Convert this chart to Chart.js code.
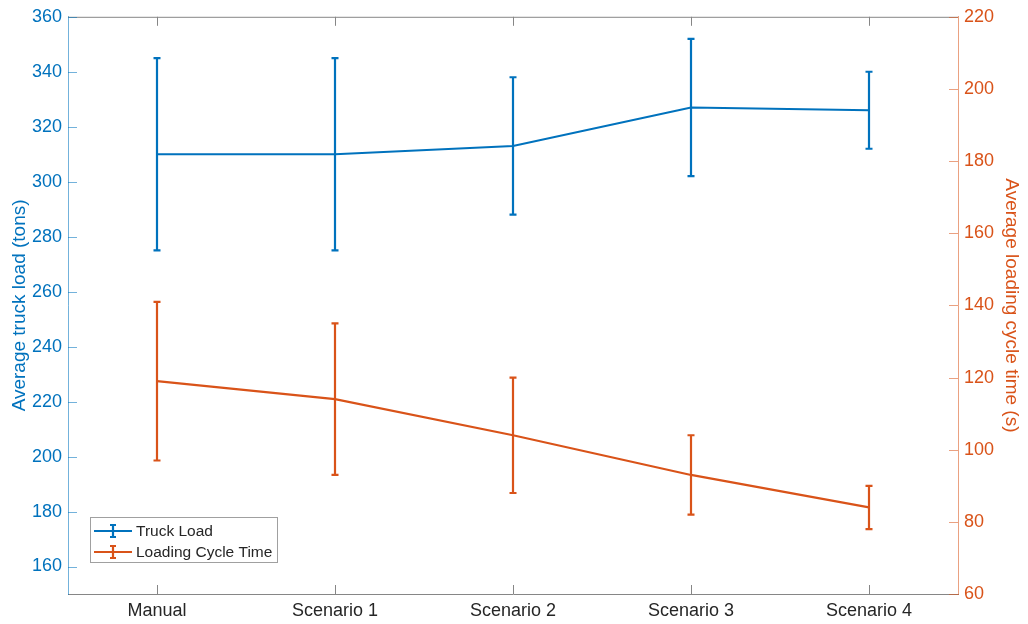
<!DOCTYPE html>
<html>
<head>
<meta charset="utf-8">
<script src="https://cdn.jsdelivr.net/npm/chart.js@4.4.0/dist/chart.umd.min.js"></script>
<style>
  html, body { margin: 0; padding: 0; background: #fff; }
</style>
</head>
<body>
<canvas id="myChart" width="1028" height="624"></canvas>
<script>
// data
var categories = ['Manual', 'Scenario 1', 'Scenario 2', 'Scenario 3', 'Scenario 4'];
var truckLoad = [310, 310, 313, 327, 326];
var truckLoadErr = [35, 35, 25, 25, 14];
var cycleTime = [119, 114, 104, 93, 84];
var cycleTimeErr = [22, 21, 16, 11, 6];
var loadTicks = [160, 180, 200, 220, 240, 260, 280, 300, 320, 340, 360];
var timeTicks = [60, 80, 100, 120, 140, 160, 180, 200, 220];

var blue = '#0072BD';
var orange = '#D95319';
var fontFam = '"Liberation Sans", Arial, Helvetica, sans-serif';

var errs = [truckLoadErr, cycleTimeErr];

// error bars, inward ticks, top frame line and the legend box
var matlabLook = {
  id: 'matlabLook',
  afterDatasetsDraw: function(chart) {
    var ctx = chart.ctx;
    var xs = chart.scales.x;
    chart.data.datasets.forEach(function(ds, i) {
      var ys = chart.scales[ds.yAxisID];
      ctx.save();
      ctx.strokeStyle = ds.borderColor;
      ctx.lineWidth = 2.2;
      ds.data.forEach(function(v, j) {
        var x = xs.getPixelForValue(j);
        var top = ys.getPixelForValue(v + errs[i][j]);
        var bot = ys.getPixelForValue(v - errs[i][j]);
        ctx.beginPath();
        ctx.moveTo(x, top); ctx.lineTo(x, bot);
        ctx.moveTo(x - 3.5, top); ctx.lineTo(x + 3.5, top);
        ctx.moveTo(x - 3.5, bot); ctx.lineTo(x + 3.5, bot);
        ctx.stroke();
      });
      ctx.restore();
    });
  },
  afterDraw: function(chart) {
    var ctx = chart.ctx;
    var a = chart.chartArea;
    var xs = chart.scales.x, yl = chart.scales.yL, yr = chart.scales.yR;
    ctx.save();
    ctx.lineWidth = 1;
    // top frame
    ctx.strokeStyle = '#868686';
    ctx.beginPath();
    ctx.moveTo(a.left, a.top + 0.5); ctx.lineTo(a.right, a.top + 0.5);
    ctx.stroke();
    // x ticks, bottom and top, pointing in
    ctx.beginPath();
    xs.ticks.forEach(function(t, j) {
      var x = Math.round(xs.getPixelForValue(j)) + 0.5;
      ctx.moveTo(x, a.bottom); ctx.lineTo(x, a.bottom - 9);
      ctx.moveTo(x, a.top); ctx.lineTo(x, a.top + 9);
    });
    ctx.stroke();
    // left ticks
    ctx.strokeStyle = 'rgba(0,114,189,0.55)';
    ctx.beginPath();
    yl.ticks.forEach(function(t) {
      var y = Math.round(yl.getPixelForValue(t.value)) + 0.5;
      ctx.moveTo(a.left, y); ctx.lineTo(a.left + 9, y);
    });
    ctx.stroke();
    // right ticks
    ctx.strokeStyle = 'rgba(217,83,25,0.55)';
    ctx.beginPath();
    yr.ticks.forEach(function(t) {
      var y = Math.round(yr.getPixelForValue(t.value)) + 0.5;
      ctx.moveTo(a.right, y); ctx.lineTo(a.right - 9, y);
    });
    ctx.stroke();

    // legend
    var bx = a.left + 22, by = a.bottom - 77, bw = 187, bh = 45;
    ctx.fillStyle = '#fff';
    ctx.fillRect(bx, by, bw, bh);
    ctx.strokeStyle = '#a0a0a0';
    ctx.strokeRect(bx + 0.5, by + 0.5, bw, bh);
    ctx.font = '15.5px ' + fontFam;
    ctx.textBaseline = 'middle';
    ctx.textAlign = 'left';
    chart.data.datasets.forEach(function(ds, i) {
      var y = by + 14 + i * 21;
      var cx = bx + 23;
      ctx.strokeStyle = ds.borderColor;
      ctx.lineWidth = 2.2;
      ctx.beginPath();
      ctx.moveTo(bx + 4, y); ctx.lineTo(bx + 42, y);
      ctx.moveTo(cx, y - 6); ctx.lineTo(cx, y + 6);
      ctx.moveTo(cx - 3, y - 6); ctx.lineTo(cx + 3, y - 6);
      ctx.moveTo(cx - 3, y + 6); ctx.lineTo(cx + 3, y + 6);
      ctx.stroke();
      ctx.fillStyle = '#262626';
      ctx.fillText(ds.label, bx + 46, y + 1);
    });
    ctx.restore();
  }
};

const ctx = document.getElementById('myChart');

new Chart(ctx, {
  type: 'line',
  data: {
    labels: categories,
    datasets: [{
      label: 'Truck Load',
      data: truckLoad,
      yAxisID: 'yL',
      borderColor: blue,
      backgroundColor: blue,
      borderWidth: 2.2,
      pointRadius: 0,
      tension: 0
    }, {
      label: 'Loading Cycle Time',
      data: cycleTime,
      yAxisID: 'yR',
      borderColor: orange,
      backgroundColor: orange,
      borderWidth: 2.2,
      pointRadius: 0,
      tension: 0
    }]
  },
  options: {
    responsive: false,
    animation: false,
    devicePixelRatio: 1,
    layout: { padding: { top: 15, left: 0, right: 0, bottom: 0 } },
    plugins: {
      legend: { display: false },
      tooltip: { enabled: false }
    },
    scales: {
      x: {
        type: 'category',
        offset: true,
        grid: { display: false, drawTicks: false },
        border: { display: true, color: '#868686', width: 1 },
        ticks: { color: '#262626', padding: 6, font: { family: fontFam, size: 18 } },
        afterFit: function(s) { s.height = 30; }
      },
      yL: {
        position: 'left',
        min: 150,
        max: 360,
        grid: { display: false, drawTicks: false },
        border: { display: true, color: 'rgba(0,114,189,0.55)', width: 1 },
        ticks: { color: blue, padding: 6, font: { family: fontFam, size: 18 } },
        afterBuildTicks: function(s) { s.ticks = loadTicks.map(function(v) { return { value: v }; }); },
        title: {
          display: true,
          text: 'Average truck load (tons)',
          color: blue,
          padding: { top: 8, bottom: 0 },
          font: { family: fontFam, size: 19 }
        },
        afterFit: function(s) { s.width = 68; }
      },
      yR: {
        position: 'right',
        min: 60,
        max: 220,
        grid: { display: false, drawTicks: false },
        border: { display: true, color: 'rgba(217,83,25,0.55)', width: 1 },
        ticks: { color: orange, padding: 6, font: { family: fontFam, size: 18 } },
        afterBuildTicks: function(s) { s.ticks = timeTicks.map(function(v) { return { value: v }; }); },
        title: {
          display: true,
          text: 'Average loading cycle time (s)',
          color: orange,
          padding: { top: 5, bottom: 0 },
          font: { family: fontFam, size: 19 }
        },
        afterFit: function(s) { s.width = 70; }
      }
    }
  },
  plugins: [matlabLook]
});
</script>
</body>
</html>
